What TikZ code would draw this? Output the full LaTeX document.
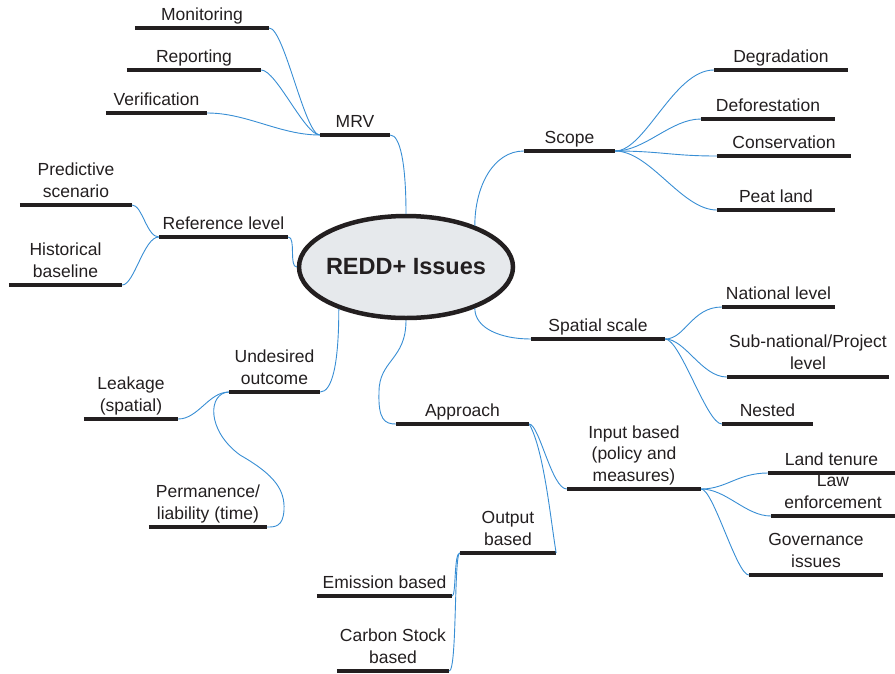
\documentclass[tikz,border=0pt]{standalone}
\usepackage{fontspec}
\setmainfont{Liberation Sans}
\usetikzlibrary{shapes.geometric}
\definecolor{linkblue}{RGB}{56,142,212}
\definecolor{barblack}{RGB}{35,31,32}
\definecolor{rootfill}{RGB}{230,233,236}
\begin{document}
\begin{tikzpicture}[x=1pt,y=-1pt,
  bar/.style={draw=barblack, line width=4pt},
  link/.style={draw=linkblue, line width=0.9pt},
  topic/.style={font=\fontsize{17.5}{21.5}\selectfont, text=barblack, align=center,
    inner xsep=0pt, inner ysep=1pt, minimum width=#1, anchor=south,
    execute at end node={\strut},
    append after command={(\tikzlastnode.south west) edge[bar] (\tikzlastnode.south east)}},
  root/.style={ellipse, draw=barblack, fill=rootfill, line width=4.5pt,
    minimum width=214pt, minimum height=102pt, inner sep=0pt,
    font=\fontsize{23.5}{28}\selectfont\bfseries, text=barblack}
]
\useasboundingbox (0,0) rectangle (895,673);

% MRV branch
\node[topic=134] (mon) at (202,28) {Monitoring};
\node[topic=134] (rep) at (194,70) {Reporting};
\node[topic=101] (ver) at (156.5,113) {Verification};
\node[topic=70] (mrv) at (355,135) {MRV};

% Reference level branch
\node[topic=112] (pred) at (76,205) {Predictive\\scenario};
\node[topic=113] (hist) at (65.5,285) {Historical\\baseline};
\node[topic=129] (ref) at (223.5,237) {Reference level};

% Scope branch
\node[topic=91] (scope) at (569.5,151) {Scope};
\node[topic=134] (deg) at (781,70) {Degradation};
\node[topic=134] (defo) at (768,119) {Deforestation};
\node[topic=134] (cons) at (784,156) {Conservation};
\node[topic=118] (peat) at (776,210) {Peat land};

% Spatial scale branch
\node[topic=134] (spat) at (598,339) {Spatial scale};
\node[topic=113] (nat) at (778.5,307) {National level};
\node[topic=162] (sub) at (808,377) {Sub-national/Project\\level};
\node[topic=91] (nest) at (767.5,424) {Nested};

% Approach branch
\node[topic=133] (appr) at (462.5,424) {Approach};
\node[topic=134] (inp) at (634,489) {Input based\\(policy and\\measures)};
\node[topic=96] (outb) at (508,553) {Output\\based};
\node[topic=127] (land) at (831.5,473) {Land tenure};
\node[topic=124] (law) at (833,516) {Law\\enforcement};
\node[topic=134] (gov) at (816,575) {Governance\\issues};
\node[topic=135] (emi) at (384.5,596) {Emission based};
\node[topic=112] (carb) at (393,671) {Carbon Stock\\based};

% Undesired outcome branch
\node[topic=91] (und) at (274.5,392) {Undesired\\outcome};
\node[topic=94] (leak) at (131,419) {Leakage\\(spatial)};
\node[topic=118] (perm) at (208,527) {Permanence/\\liability (time)};

% root
\node[root] (root) at (406,267) {\makebox[0pt]{REDD+ Issues}};

% links from root
\draw[link] (mrv.south east) to[out=0,in=90,out distance=10pt,in distance=50pt] (root.north);
\draw[link] (root.31) to[out=90,in=180,out distance=40pt,in distance=30pt] (scope.south west);
\draw[link] (root.-31) to[out=-90,in=180,out distance=20pt,in distance=30pt] (spat.south west);
\draw[link] (ref.south east) to[out=0,in=180,out distance=8pt,in distance=8pt] (root.west);
\draw[link] (root.-148) to[out=-90,in=0,out distance=55pt,in distance=12pt] (und.south east);
\draw[link] (root.south) .. controls (406,360) and (379,360) .. (379,392)
  .. controls (378,420) and (385,424) .. (appr.south west);

% MRV children
\draw[link] (mon.south east) to[out=0,in=180,out distance=15pt,in distance=15pt] (mrv.south west);
\draw[link] (rep.south east) to[out=0,in=180,out distance=15pt,in distance=15pt] (mrv.south west);
\draw[link] (ver.south east) to[out=0,in=180,out distance=40pt,in distance=40pt] (mrv.south west);

% Reference level children
\draw[link] (pred.south east) to[out=0,in=180,out distance=10pt,in distance=12pt] (ref.south west);
\draw[link] (hist.south east) to[out=0,in=180,out distance=12pt,in distance=15pt] (ref.south west);

% Scope children
\draw[link] (scope.south east) to[out=0,in=180,out distance=30pt,in distance=40pt] (deg.south west);
\draw[link] (scope.south east) to[out=0,in=180,out distance=30pt,in distance=30pt] (defo.south west);
\draw[link] (scope.south east) to[out=0,in=180,out distance=45pt,in distance=45pt] (cons.south west);
\draw[link] (scope.south east) to[out=0,in=180,out distance=35pt,in distance=35pt] (peat.south west);

% Spatial scale children
\draw[link] (spat.south east) to[out=0,in=180,out distance=20pt,in distance=30pt] (nat.south west);
\draw[link] (spat.south east) to[out=0,in=180,out distance=20pt,in distance=25pt] (sub.south west);
\draw[link] (spat.south east) to[out=0,in=180,out distance=15pt,in distance=15pt] (nest.south west);

% Approach children
\draw[link] (appr.south east) to[out=0,in=180,out distance=10pt,in distance=15pt] (inp.south west);
\draw[link] (appr.south east) to[out=-60,in=100,out distance=30pt,in distance=30pt] (outb.south east);

% Input based children
\draw[link] (inp.south east) to[out=0,in=180,out distance=25pt,in distance=30pt] (land.south west);
\draw[link] (inp.south east) to[out=0,in=180,out distance=25pt,in distance=25pt] (law.south west);
\draw[link] (inp.south east) to[out=0,in=180,out distance=12pt,in distance=12pt] (gov.south west);

% Output based children
\draw[link] (outb.south west) to[out=180,in=0,out distance=6pt,in distance=4pt] (emi.south east);
\draw[link] (outb.south west) to[out=180,in=0,out distance=6pt,in distance=8pt] (carb.south east);

% Undesired outcome children
\draw[link] (und.south west) to[out=180,in=0,out distance=20pt,in distance=20pt] (leak.south east);
\draw[link] (und.south west) .. controls (208,393) and (206,430) .. (240,455)
  .. controls (275,475) and (285,490) .. (284,510)
  .. controls (283,527) and (275,527) .. (perm.south east);
\end{tikzpicture}
\end{document}
